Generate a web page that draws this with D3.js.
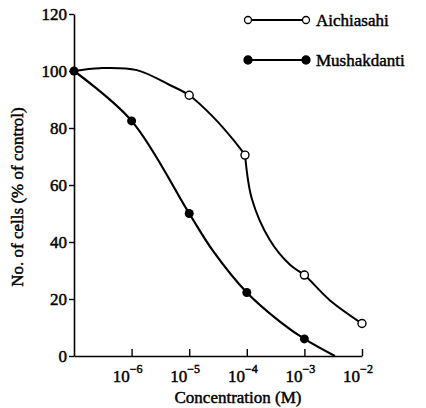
<!DOCTYPE html>
<html>
<head>
<meta charset="utf-8">
<script src="https://cdn.jsdelivr.net/npm/d3@7"></script>
<style>
  body { margin: 0; background: #fff; }
</style>
</head>
<body>
<div id="chart"></div>
<script>
// data
var seriesNames = ["Aichiasahi", "Mushakdanti"];
var xTickExp = [-6, -5, -4, -3, -2];
var yTicks = [0, 20, 40, 60, 80, 100, 120];

// measured points (markers)
var aichiConc = [1e-5, 9.3e-5, 1e-3, 1e-2];
var aichiCells = [91.5, 70.5, 28.4, 11.4];
var mushConc = [1e-7, 1e-6, 1e-5, 1e-4, 1e-3];
var mushCells = [100, 82.5, 50, 22.3, 6];

// fitted curves as drawn (log10 conc, % cells);
// Aichiasahi has a corner near 1e-4 so it is drawn in two pieces
var aichiUpperExp = [-7, -6.55, -5.91, -5.33, -5, -4.59, -4.24, -4.03];
var aichiUpperCells = [100, 101, 100.3, 95, 91.5, 84, 76, 70.5];
var aichiLowerExp = [-4.03, -3.91, -3.6, -3.25, -3, -2.56, -2];
var aichiLowerCells = [70.5, 55, 40.7, 32, 28.4, 19.6, 11.4];
var mushCurveExp = [-7, -6, -5, -4.59, -4, -3.42, -3, -2.47];
var mushCurveCells = [100, 82.5, 50, 37, 22.3, 12, 6, 0];

var svgWidth = 426;
var svgHeight = 408;

var svg = d3.select("#chart")
  .append("svg")
  .attr("width", svgWidth)
  .attr("height", svgHeight)
  .style("font-family", "'Liberation Serif', 'DejaVu Serif', serif");

var x = d3.scaleLog()
  .domain([1e-7, 1e-2])
  .range([74, 362]);

var y = d3.scaleLinear()
  .domain([0, 120])
  .range([356, 14]);

function label(sel, size) {
  return sel.attr("font-family", null)
    .style("font-family", "'Liberation Serif', 'DejaVu Serif', serif")
    .attr("font-size", size)
    .attr("fill", "#000")
    .attr("stroke", "#000")
    .attr("stroke-width", 0.45);
}

// x axis, ticks pointing inward
var xAxis = svg.append("g")
  .attr("transform", "translate(0,356)")
  .call(d3.axisBottom(x)
    .tickValues(xTickExp.map(e => Math.pow(10, e)))
    .tickSize(-7)
    .tickSizeOuter(0)
    .tickFormat(""));
xAxis.select(".domain").attr("stroke-width", 1.6);
xAxis.selectAll(".tick line").attr("stroke-width", 1.4);

var xLab = svg.append("g").selectAll("text")
  .data(xTickExp)
  .enter()
  .append("text")
  .attr("x", d => x(Math.pow(10, d)) - 4)
  .attr("y", 382)
  .attr("text-anchor", "middle");
label(xLab, 17);
xLab.append("tspan").text("10");
xLab.append("tspan")
  .attr("dy", -9)
  .attr("font-size", 12)
  .text(d => "\u2212" + Math.abs(d));

// y axis
var yAxis = svg.append("g")
  .attr("transform", "translate(74,0)")
  .call(d3.axisLeft(y)
    .tickValues(yTicks)
    .tickSize(5)
    .tickSizeOuter(0)
    .tickPadding(2));
yAxis.attr("font-family", null);
yAxis.select(".domain").attr("stroke-width", 1.6);
yAxis.selectAll(".tick line").attr("stroke-width", 1.4);
label(yAxis.selectAll(".tick text"), 17);

// axis titles
label(svg.append("text"), 17)
  .attr("x", 238)
  .attr("y", 403)
  .attr("text-anchor", "middle")
  .text("Concentration (M)");

label(svg.append("text"), 17)
  .attr("transform", "translate(23,197) rotate(-90)")
  .attr("text-anchor", "middle")
  .text("No. of cells (% of control)");

// curves
var line = d3.line()
  .x(d => x(Math.pow(10, d[0])))
  .y(d => y(d[1]))
  .curve(d3.curveCatmullRom.alpha(0.5));

[d3.zip(aichiUpperExp, aichiUpperCells),
 d3.zip(aichiLowerExp, aichiLowerCells),
 d3.zip(mushCurveExp, mushCurveCells)].forEach(function(pts, i) {
  svg.append("path")
    .datum(pts)
    .attr("d", line)
    .attr("fill", "none")
    .attr("stroke", "#000")
    .attr("stroke-width", i == 2 ? 2.2 : 2);
});

// markers
svg.append("g").selectAll("circle")
  .data(d3.zip(mushConc, mushCells))
  .enter()
  .append("circle")
  .attr("cx", d => x(d[0]))
  .attr("cy", d => y(d[1]))
  .attr("r", 4.5)
  .attr("fill", "#000");

svg.append("g").selectAll("circle")
  .data(d3.zip(aichiConc, aichiCells))
  .enter()
  .append("circle")
  .attr("cx", d => x(d[0]))
  .attr("cy", d => y(d[1]))
  .attr("r", 4)
  .attr("fill", "#fff")
  .attr("stroke", "#000")
  .attr("stroke-width", 1.4);

// legend
var legend = svg.append("g");
seriesNames.forEach(function(name, i) {
  var ly = 20 + i * 40;
  legend.append("line")
    .attr("x1", 248).attr("x2", 306)
    .attr("y1", ly).attr("y2", ly)
    .attr("stroke", "#000")
    .attr("stroke-width", 2);
  [248, 306].forEach(function(cx) {
    legend.append("circle")
      .attr("cx", cx).attr("cy", ly)
      .attr("r", i == 0 ? 3.5 : 4)
      .attr("fill", i == 0 ? "#fff" : "#000")
      .attr("stroke", "#000")
      .attr("stroke-width", 1.3);
  });
  label(legend.append("text"), 17)
    .attr("x", 316)
    .attr("y", ly + 6)
    .text(name);
});
</script>
</body>
</html>
